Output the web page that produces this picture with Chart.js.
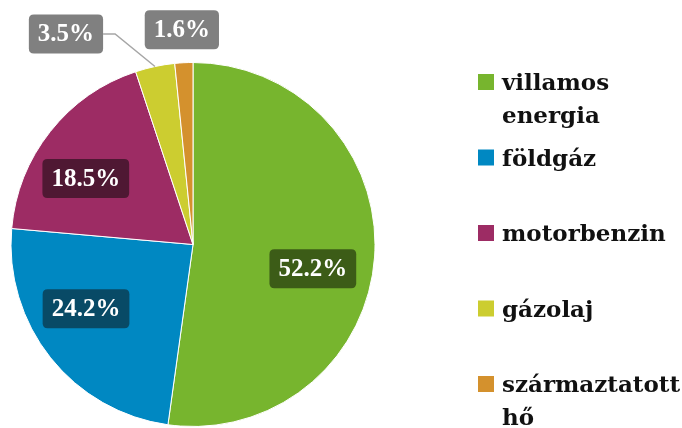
<!DOCTYPE html>
<html>
<head>
<meta charset="utf-8">
<script src="https://cdn.jsdelivr.net/npm/chart.js@4/dist/chart.umd.min.js"></script>
<style>
  html, body { margin: 0; padding: 0; background: #ffffff; }
  #wrap { position: relative; width: 682px; height: 428px; }
</style>
</head>
<body>
<div id="wrap"><canvas id="c" width="682" height="428"></canvas></div>
<script>
// ---- data ----
const categories = ['villamos energia', 'földgáz', 'motorbenzin', 'gázolaj', 'származtatott hő'];
const shares = [52.2, 24.2, 18.5, 3.5, 1.6];
const valueLabels = ['52.2%', '24.2%', '18.5%', '3.5%', '1.6%'];

// ---- style ----
const sliceColors = ['#77b52e', '#0088c2', '#9d2c64', '#cccd30', '#d4912d'];
const labelBoxColors = ['#3c5c17', '#084a66', '#4f1833', '#808080', '#808080'];
const labelMode = ['in', 'in', 'in', 'out', 'out'];
const labelShift = [[0, 16], [-13, -10.5], [-13, 8.4], [-89, -32.5], [-2, -33]];
const labelLeader = [false, false, false, true, false];

const LABEL_FONT = 'bold 25px "Liberation Serif"';
const LEGEND_FONT = 'bold 23px "DejaVu Serif"';

function roundRect(ctx, x, y, w, h, r) {
  ctx.beginPath();
  ctx.moveTo(x + r, y);
  ctx.lineTo(x + w - r, y);
  ctx.quadraticCurveTo(x + w, y, x + w, y + r);
  ctx.lineTo(x + w, y + h - r);
  ctx.quadraticCurveTo(x + w, y + h, x + w - r, y + h);
  ctx.lineTo(x + r, y + h);
  ctx.quadraticCurveTo(x, y + h, x, y + h - r);
  ctx.lineTo(x, y + r);
  ctx.quadraticCurveTo(x, y, x + r, y);
  ctx.closePath();
}

const sliceLabels = {
  id: 'sliceLabels',
  afterDatasetsDraw(chart) {
    const ctx = chart.ctx;
    const meta = chart.getDatasetMeta(0);
    ctx.save();
    ctx.font = LABEL_FONT;
    meta.data.forEach((arc, i) => {
      const p = arc.getProps(['x', 'y', 'startAngle', 'endAngle', 'outerRadius'], true);
      const mid = (p.startAngle + p.endAngle) / 2;
      const rr = labelMode[i] === 'in' ? p.outerRadius * 0.66 : p.outerRadius;
      const ex = p.x + Math.cos(mid) * rr;
      const ey = p.y + Math.sin(mid) * rr;
      const cx = ex + labelShift[i][0];
      const cy = ey + labelShift[i][1];
      const txt = valueLabels[i];
      const tw = ctx.measureText(txt).width;
      const bw = tw + 18, bh = 39;
      const bx = cx - bw / 2, by = cy - bh / 2;
      if (labelLeader[i]) {
        ctx.strokeStyle = '#a6a6a6';
        ctx.lineWidth = 1.5;
        ctx.beginPath();
        ctx.moveTo(bx + bw, cy);
        ctx.lineTo(bx + bw + 12, cy);
        ctx.lineTo(ex, ey);
        ctx.stroke();
      }
      ctx.fillStyle = labelBoxColors[i];
      roundRect(ctx, bx, by, bw, bh, 5);
      ctx.fill();
      ctx.fillStyle = '#ffffff';
      ctx.textAlign = 'center';
      ctx.textBaseline = 'middle';
      ctx.fillText(txt, cx, cy + 1);
    });
    ctx.restore();
  }
};

const sideLegend = {
  id: 'sideLegend',
  afterDraw(chart) {
    const ctx = chart.ctx;
    const labels = chart.data.labels;
    const colors = chart.data.datasets[0].backgroundColor;
    ctx.save();
    ctx.font = LEGEND_FONT;
    ctx.textAlign = 'left';
    ctx.textBaseline = 'alphabetic';
    const textX = 502, maxW = 178;
    labels.forEach((lab, i) => {
      const base = 90 + i * 75.5;
      ctx.fillStyle = colors[i];
      ctx.fillRect(478, base - 16, 16, 16);
      const words = lab.split(' ');
      const lines = [];
      let cur = '';
      words.forEach(w => {
        const t = cur ? cur + ' ' + w : w;
        if (cur && ctx.measureText(t).width > maxW) { lines.push(cur); cur = w; }
        else cur = t;
      });
      if (cur) lines.push(cur);
      ctx.fillStyle = '#111111';
      lines.forEach((ln, k) => ctx.fillText(ln, textX, base + k * 33));
    });
    ctx.restore();
  }
};

new Chart(document.getElementById('c'), {
  type: 'pie',
  data: {
    labels: categories,
    datasets: [{
      data: shares,
      backgroundColor: sliceColors,
      borderColor: '#ffffff',
      borderWidth: 1,
      radius: 182
    }]
  },
  options: {
    responsive: false,
    animation: false,
    devicePixelRatio: 1,
    layout: { padding: { left: 11, right: 307, top: 62, bottom: 1 } },
    plugins: {
      legend: { display: false },
      tooltip: { enabled: false }
    }
  },
  plugins: [sliceLabels, sideLegend]
});
</script>
</body>
</html>
